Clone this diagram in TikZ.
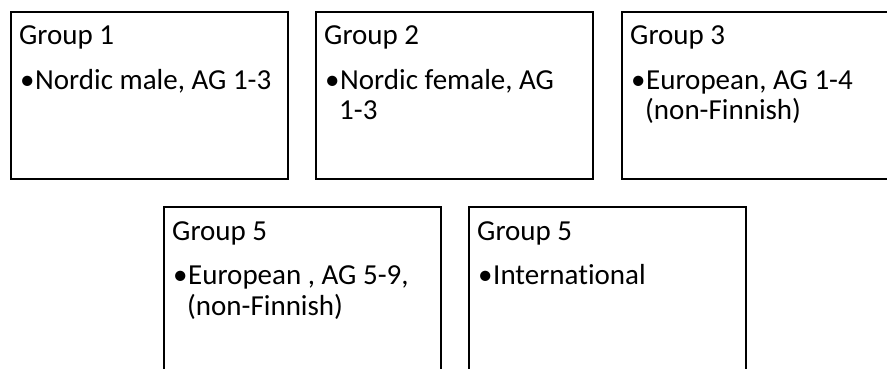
\documentclass[tikz,border=0pt]{standalone}
\usepackage{fontspec}
\setmainfont{Carlito}[Ligatures=NoCommon]
\usetikzlibrary{calc}
\tikzset{
  x=1pt,y=-1pt,
  grp/.style={draw=black, line width=2pt, minimum width=277pt, minimum height=167pt, inner sep=0pt, anchor=north west},
  txt/.style={anchor=base west, inner sep=0pt, font=\fontsize{29}{33}\selectfont, text=black},
}
\begin{document}
\begin{tikzpicture}
\useasboundingbox (0,0) rectangle (887,369);
\clip (0,0) rectangle (887,369);
\fill[white] (0,0) rectangle (887,369);
% boxes
\node[grp] (b1) at (10,11) {};
\node[grp] (b2) at (315,11) {};
\node[grp] (b3) at (621,11) {};
\node[grp] (b4) at (163,206) {};
\node[grp] (b5) at (468,206) {};
% box 1
\node[txt] (t1) at ($(b1.north west)+(9,34)$) {Group 1};
\node[txt] (u1) at ($(b1.north west)+(10,78)$) {•};
\node[txt] (l1a) at ($(b1.north west)+(25,78)$) {Nordic male, AG 1-3};
% box 2
\node[txt] (t2) at ($(b2.north west)+(9,34)$) {Group 2};
\node[txt] (u2) at ($(b2.north west)+(10,78)$) {•};
\node[txt] (l2a) at ($(b2.north west)+(25,78)$) {Nordic female, AG};
\node[txt] (l2b) at ($(b2.north west)+(24,109)$) {1-3};
% box 3
\node[txt] (t3) at ($(b3.north west)+(9,34)$) {Group 3};
\node[txt] (u3) at ($(b3.north west)+(10,78)$) {•};
\node[txt] (l3a) at ($(b3.north west)+(25,78)$) {European, AG 1-4};
\node[txt] (l3b) at ($(b3.north west)+(24,109)$) {(non-Finnish)};
% box 4
\node[txt] (t4) at ($(b4.north west)+(9,34)$) {Group 5};
\node[txt] (u4) at ($(b4.north west)+(10,78)$) {•};
\node[txt] (l4a) at ($(b4.north west)+(25,78)$) {European , AG 5-9,};
\node[txt] (l4b) at ($(b4.north west)+(24,109)$) {(non-Finnish)};
% box 5
\node[txt] (t5) at ($(b5.north west)+(9,34)$) {Group 5};
\node[txt] (u5) at ($(b5.north west)+(10,78)$) {•};
\node[txt] (l5a) at ($(b5.north west)+(25,78)$) {International};
\end{tikzpicture}
\end{document}
